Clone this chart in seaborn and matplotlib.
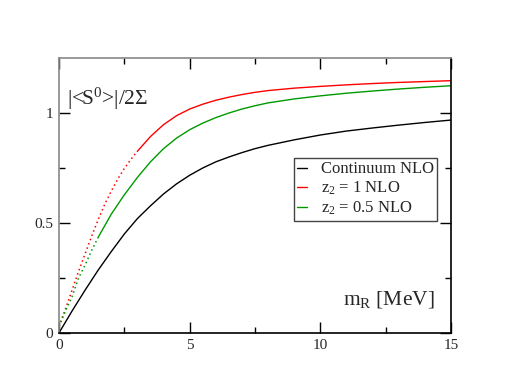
import matplotlib
matplotlib.use('Agg')
import matplotlib.pyplot as plt
import seaborn as sns

# Datos (m_R en MeV, |<S0>|/2Σ)
x_cont = [0, 0.5, 1, 1.5, 2, 2.5, 3, 3.5, 4, 4.5, 5, 5.5, 6, 6.5, 7, 7.5, 8,
          9, 10, 11, 12, 13, 14, 15]
y_cont = [0, 0.10, 0.195, 0.286, 0.37, 0.45, 0.52, 0.578, 0.632, 0.678, 0.717, 0.75,
          0.778, 0.80, 0.82, 0.838, 0.853, 0.878, 0.90, 0.918, 0.932, 0.945, 0.957, 0.968]

# z2 = 1: tramo punteado (m_R < 3) y tramo continuo
x_z1_dot = [0, 0.25, 0.5, 0.75, 1, 1.25, 1.5, 1.75, 2, 2.25, 2.5, 2.75, 3]
y_z1_dot = [0.03, 0.11, 0.195, 0.28, 0.36, 0.44, 0.515, 0.585, 0.645, 0.70, 0.748, 0.789, 0.826]
x_z1 = [3, 3.5, 4, 4.5, 5, 5.5, 6, 6.5, 7, 7.5, 8, 9, 10, 11, 12, 13, 14, 15]
y_z1 = [0.826, 0.893, 0.947, 0.988, 1.018, 1.04, 1.058, 1.072, 1.084, 1.094, 1.102, 1.113,
        1.121, 1.128, 1.134, 1.139, 1.143, 1.147]

# z2 = 0.5: tramo punteado (m_R < 1.5) y tramo continuo
x_z05_dot = [0, 0.25, 0.5, 0.75, 1, 1.25, 1.5]
y_z05_dot = [0.03, 0.10, 0.165, 0.25, 0.31, 0.375, 0.435]
x_z05 = [1.5, 2, 2.5, 3, 3.5, 4, 4.5, 5, 5.5, 6, 6.5, 7, 7.5, 8, 9, 10, 11, 12, 13, 14, 15]
y_z05 = [0.435, 0.54, 0.628, 0.707, 0.778, 0.838, 0.886, 0.924, 0.954, 0.979, 1.0, 1.018,
         1.033, 1.046, 1.064, 1.078, 1.09, 1.10, 1.109, 1.117, 1.124]

x_ticks = [0, 5, 10, 15]
x_ticklabels = ['0', '5', '10', '15']
y_ticks = [0, 0.5, 1]
y_ticklabels = ['0', '0.5', '1']

sns.set_style('ticks')
plt.rcParams['font.family'] = ['Liberation Serif', 'DejaVu Serif']
plt.rcParams['mathtext.fontset'] = 'custom'
plt.rcParams['mathtext.rm'] = 'Liberation Serif'
plt.rcParams['mathtext.it'] = 'Liberation Serif:italic'

RED = '#ff0000'
GREEN = '#009a00'
DOTS = (0, (1, 2))

fig = plt.figure(figsize=(5.08, 3.92), dpi=100)
ax = fig.add_axes([0.1161, 0.1505, 0.7717, 0.7015])

# Curvas continuas (con leyenda)
sns.lineplot(x=x_cont, y=y_cont, color='black', lw=1.0, ax=ax, label='Continuum NLO')
sns.lineplot(x=x_z1, y=y_z1, color=RED, lw=1.0, ax=ax, label='z$_2$ = 1 NLO')
sns.lineplot(x=x_z05, y=y_z05, color=GREEN, lw=1.0, ax=ax, label='z$_2$ = 0.5 NLO')
# Tramos punteados (sin leyenda)
sns.lineplot(x=x_z1_dot, y=y_z1_dot, color=RED, lw=1.1, ls=DOTS, ax=ax, legend=False)
sns.lineplot(x=x_z05_dot, y=y_z05_dot, color=GREEN, lw=1.1, ls=DOTS, ax=ax, legend=False)

ax.set_xlim(0, 15)
ax.set_ylim(0, 1.25)
ax.set_xticks(x_ticks)
ax.set_xticklabels(x_ticklabels)
ax.set_yticks(y_ticks)
ax.set_yticklabels(y_ticklabels)
ax.set_xticks([2.5, 7.5, 12.5], minor=True)
ax.set_yticks([0.25, 0.75], minor=True)
ax.tick_params(which='both', direction='in', top=True, right=True, width=1,
               color='black', labelsize=11, pad=4)
ax.tick_params(which='major', length=8)
ax.tick_params(which='minor', length=4)
ax.set_xlabel('')
ax.set_ylabel('')

for side in ['bottom', 'right']:
    ax.spines[side].set_color('black')
for side in ['left', 'top']:
    ax.spines[side].set_color('#888888')
for s in ax.spines.values():
    s.set_linewidth(1.2)

# Etiquetas dentro del área de dibujo
ax.text(0.02, 0.829, '|<S$^0$>|/2Σ', transform=ax.transAxes, fontsize=15.5,
        ha='left', va='baseline')
ax.text(0.7245, 0.102, 'm$_\\mathrm{R}$ [MeV]', transform=ax.transAxes, fontsize=15.5,
        ha='left', va='baseline')

leg = ax.legend(loc='upper left', bbox_to_anchor=(0.5995, 0.636), borderaxespad=0,
                fontsize=12, frameon=True, fancybox=False, framealpha=1,
                edgecolor='#444444', handlelength=0.6, handletextpad=0.8,
                borderpad=0.2, labelspacing=0.15)
leg.get_frame().set_linewidth(1.0)

fig.savefig('out.png', dpi=100)
